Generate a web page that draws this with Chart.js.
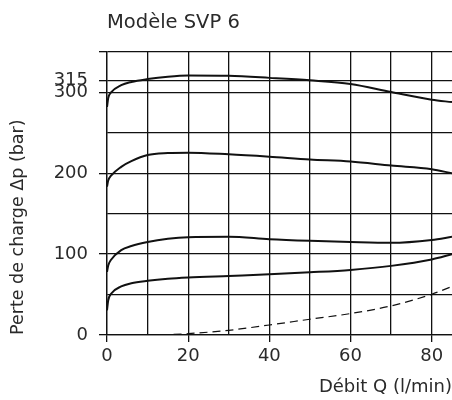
<!DOCTYPE html>
<html>
<head>
<meta charset="utf-8">
<script src="https://cdn.jsdelivr.net/npm/chart.js@4"></script>
<style>
  body { margin: 0; background: #fff; }
</style>
</head>
<body>
<canvas id="chart" width="452" height="400"></canvas>
<script>
// flow (l/min) and pressure drop (bar)
const flowQ = [0, 0.3, 1, 3.5, 6, 10, 15, 20, 30, 40, 50, 60, 70, 80, 85];
const curve315 = [282, 293, 300, 309, 313, 316.5, 319.5, 321, 320.5, 318, 315, 310.5, 300.5, 291, 288];
const curve200 = [183.5, 191, 197, 208, 215, 222.5, 225, 225.5, 223.5, 220.5, 217, 214.5, 209.5, 205, 200];
const curve100 = [78, 86, 93, 105, 110, 115, 119, 121, 121.5, 118.5, 116.5, 115, 114, 117.5, 121.5];
const curve30 = [30.6, 43, 51, 60, 64, 67, 69.5, 71, 73, 75, 77.5, 80.5, 85.5, 93.5, 100];

const flowOpen = [10, 15, 20, 30, 40, 50, 60, 70, 80, 85];
const curveOpen = [0, 0.5, 1.7, 5.8, 12.4, 19.5, 26.5, 36, 50.4, 60];

const xTicks = [0, 10, 20, 30, 40, 50, 60, 70, 80];
const xLabels = [0, 20, 40, 60, 80];
const yTicks = [0, 50, 100, 150, 200, 250, 300, 315, 350];
const yLabels = [0, 100, 200, 300, 315];
const yMarks = [0, 100, 200, 300, 315, 350];

const ink = '#111';
const textInk = '#2a2a2a';
const fontFam = '"DejaVu Sans", "Liberation Sans", sans-serif';

function pts(xs, ys) {
  return xs.map((x, i) => ({ x: x, y: ys[i] }));
}

function solid(ys) {
  return {
    data: pts(flowQ, ys),
    borderColor: ink,
    borderWidth: 2,
    pointRadius: 0,
    fill: false,
    cubicInterpolationMode: 'monotone'
  };
}

// title drawn above the plot, lined up with its left edge
const titlePlugin = {
  id: 'modelTitle',
  afterDraw(chart) {
    const c = chart.ctx;
    c.save();
    c.fillStyle = textInk;
    c.font = '19.5px ' + fontFam;
    c.textAlign = 'left';
    c.textBaseline = 'middle';
    c.fillText('Modèle SVP 6', chart.chartArea.left, 23);
    c.restore();
  }
};

new Chart(document.getElementById('chart').getContext('2d'), {
  type: 'line',
  data: {
    datasets: [
      solid(curve315),
      solid(curve200),
      solid(curve100),
      solid(curve30),
      {
        data: pts(flowOpen, curveOpen),
        borderColor: ink,
        borderWidth: 1.2,
        borderDash: [8, 5],
        pointRadius: 0,
        fill: false,
        cubicInterpolationMode: 'monotone'
      }
    ]
  },
  options: {
    responsive: false,
    animation: false,
    devicePixelRatio: 1,
    layout: { padding: { top: 52, left: 0, right: 0, bottom: 0 } },
    plugins: { legend: { display: false }, tooltip: { enabled: false } },
    scales: {
      x: {
        type: 'linear',
        min: 0,
        max: 85,
        afterBuildTicks: (s) => { s.ticks = xTicks.map(v => ({ value: v })); },
        afterFit: (s) => { s.height = 65; },
        ticks: {
          autoSkip: false,
          maxRotation: 0,
          padding: 4,
          color: textInk,
          font: { family: fontFam, size: 18 },
          callback: (v) => xLabels.includes(v) ? String(v) : ''
        },
        grid: {
          color: ink,
          lineWidth: 1.3,
          tickLength: 7,
          tickColor: (ctx) => xLabels.includes(ctx.tick.value) ? ink : 'rgba(0,0,0,0)'
        },
        border: { color: ink, width: 1.3 },
        title: {
          display: true,
          text: 'Débit Q (l/min)',
          align: 'end',
          color: textInk,
          font: { family: fontFam, size: 18 },
          padding: { top: 0, bottom: 2 }
        }
      },
      y: {
        type: 'linear',
        min: 0,
        max: 350,
        afterBuildTicks: (s) => { s.ticks = yTicks.map(v => ({ value: v })); },
        afterFit: (s) => { s.width = 107; },
        ticks: {
          autoSkip: false,
          padding: 11,
          color: textInk,
          font: { family: fontFam, size: 18 },
          callback: (v) => yLabels.includes(v) ? String(v) : ''
        },
        grid: {
          color: ink,
          lineWidth: 1.3,
          tickLength: 8,
          tickColor: (ctx) => yMarks.includes(ctx.tick.value) ? ink : 'rgba(0,0,0,0)'
        },
        border: { color: ink, width: 1.3 },
        title: {
          display: true,
          text: 'Perte de charge Δp (bar)',
          align: 'start',
          color: textInk,
          font: { family: fontFam, size: 17.5 },
          padding: { top: 8, bottom: 0 }
        }
      }
    }
  },
  plugins: [titlePlugin]
});
</script>
</body>
</html>
